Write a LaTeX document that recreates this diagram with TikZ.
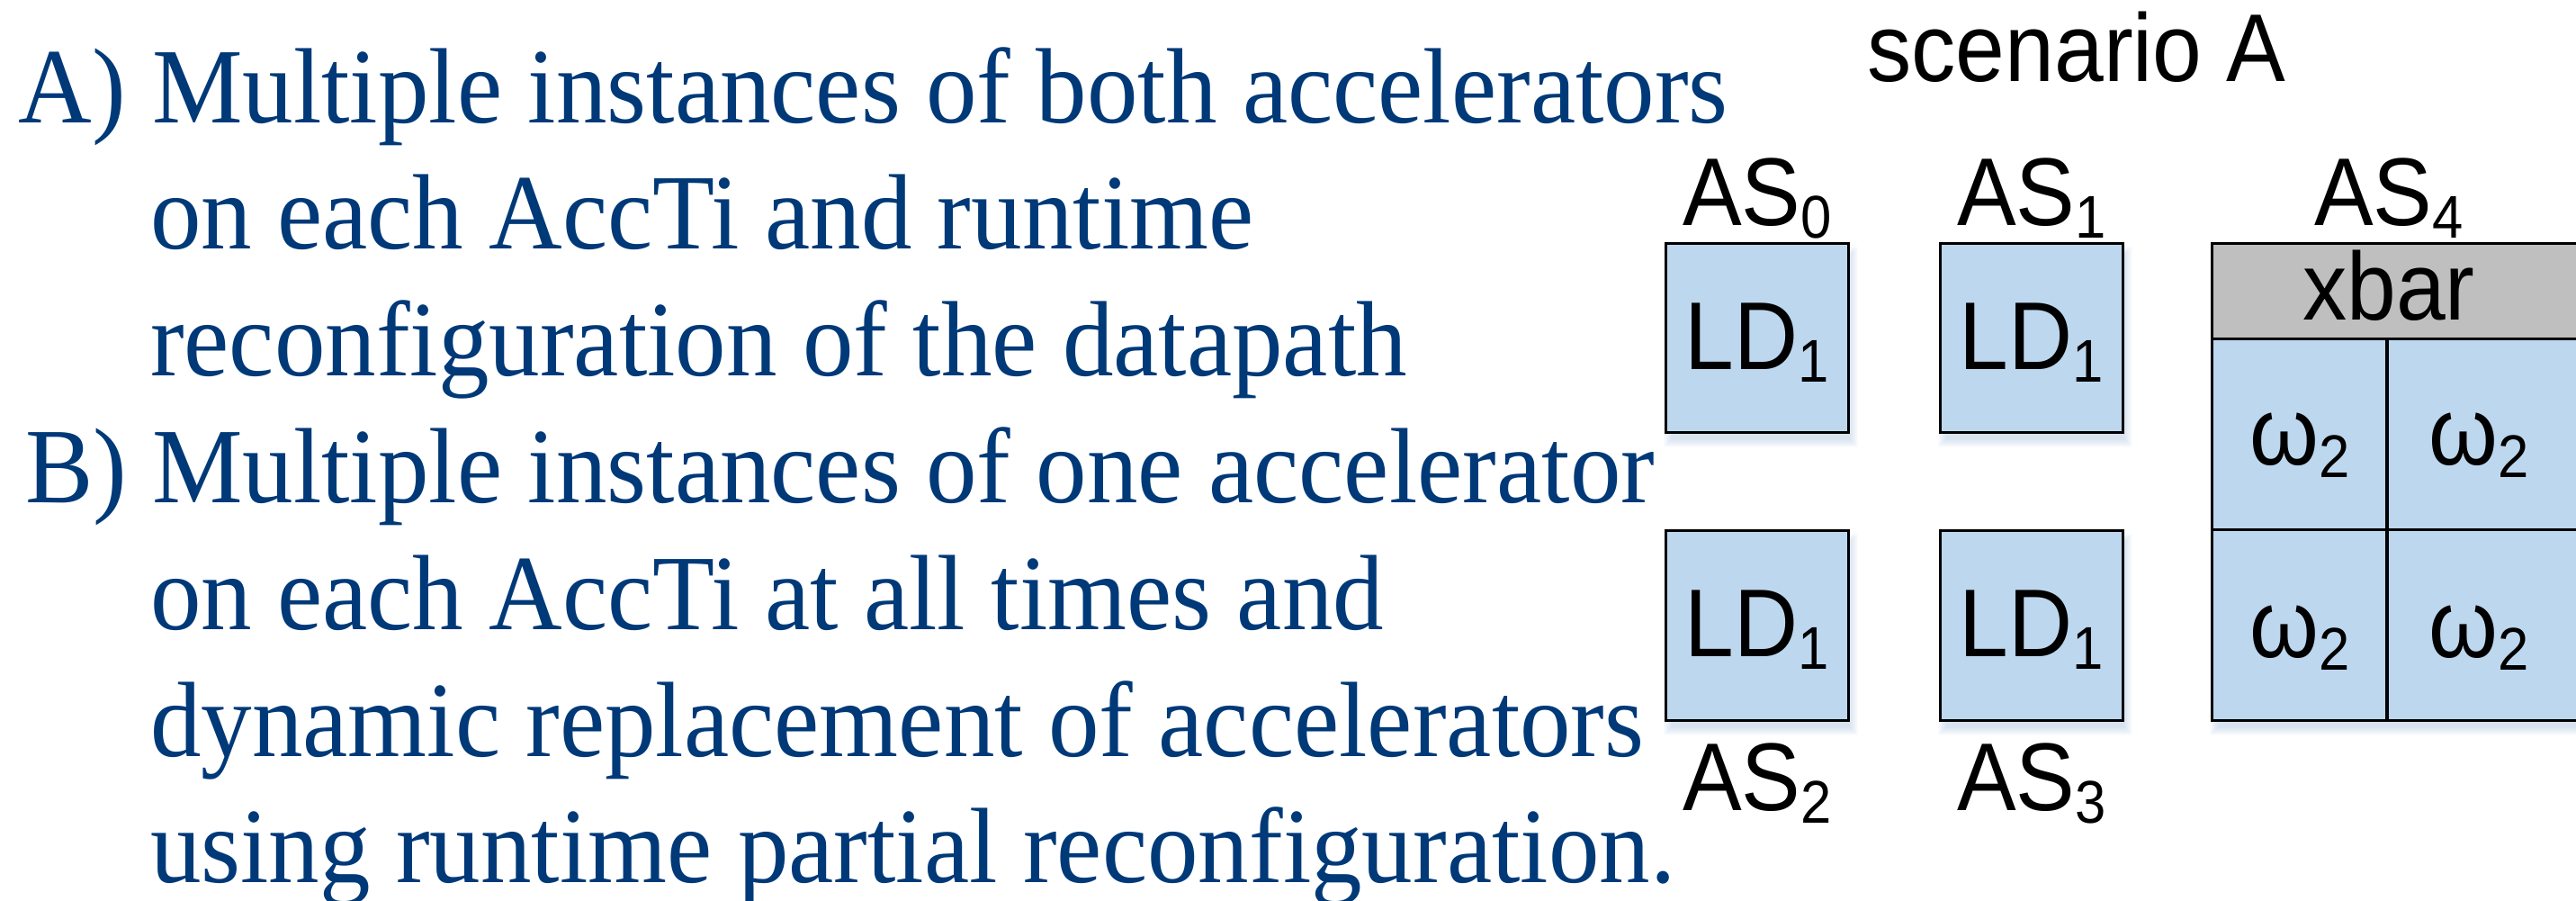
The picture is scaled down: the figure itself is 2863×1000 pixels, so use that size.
\documentclass[tikz,border=0pt]{standalone}
\usepackage{fontspec}
\setmainfont{Liberation Serif}[FakeStretch=0.95]
\newfontfamily\arialf{Liberation Sans}[FakeStretch=0.92]
\usetikzlibrary{backgrounds}
\definecolor{txtblue}{RGB}{0,57,120}
\definecolor{boxblue}{RGB}{189,215,238}
\definecolor{bargrey}{RGB}{191,191,191}
\definecolor{shadowc}{RGB}{110,150,200}
\newcommand\subsc[1]{\raisebox{-3.5pt}{\fontsize{16.75pt}{16.75pt}\selectfont #1}}
\begin{document}
\begin{tikzpicture}[x=0.25pt,y=-0.25pt,
  bodytext/.style={anchor=base west,inner sep=0pt,outer sep=0pt,text=txtblue,
    font=\fontsize{29.75pt}{35pt}\selectfont},
  sanslabel/.style={anchor=base,inner sep=0pt,outer sep=0pt,
    font=\arialf\fontsize{26.75pt}{30pt}\selectfont},
  ldbox/.style={draw=black,line width=0.75pt,fill=boxblue,inner sep=0pt,
    minimum width=50.75pt,minimum height=52.6pt},
  gridcell/.style={draw=black,line width=0.75pt,fill=boxblue,inner sep=0pt},
  barbox/.style={draw=black,line width=0.75pt,fill=bargrey,inner sep=0pt},
]
\useasboundingbox (0,0) rectangle (2863,1000);

% left text
\node[bodytext] (la) at (21,136) {A)};
\node[bodytext] (l1) at (169,136) {Multiple instances of both accelerators};
\node[bodytext] (l2) at (167,276) {on each AccTi and runtime};
\node[bodytext] (l3) at (167,417) {reconfiguration of the datapath};
\node[bodytext] (lb) at (28,558) {B)};
\node[bodytext] (l4) at (169,558) {Multiple instances of one accelerator};
\node[bodytext] (l5) at (167,699) {on each AccTi at all times and};
\node[bodytext] (l6) at (167,840) {dynamic replacement of accelerators};
\node[bodytext] (l7) at (167,980) {using runtime partial reconfiguration.};

% scenario title
\node[sanslabel] (title) at (2308,90) {scenario A};

% LD boxes
\node[ldbox] (b0) at (1953,375.5) {};
\node[ldbox] (b1) at (2258,375.5) {};
\node[ldbox] (b2) at (1953,695) {};
\node[ldbox] (b3) at (2258,695) {};
\node[sanslabel] (t0) at (1953,410) {LD\subsc{1}};
\node[sanslabel] (t1) at (2258,410) {LD\subsc{1}};
\node[sanslabel] (t2) at (1953,729) {LD\subsc{1}};
\node[sanslabel] (t3) at (2258,729) {LD\subsc{1}};

% AS labels
\node[sanslabel] (as0) at (1953,250) {AS\subsc{0}};
\node[sanslabel] (as1) at (2258,250) {AS\subsc{1}};
\node[sanslabel] (as2) at (1953,900) {AS\subsc{2}};
\node[sanslabel] (as3) at (2258,900) {AS\subsc{3}};
\node[sanslabel] (as4) at (2655,250) {AS\subsc{4}};

% AS4 grid
\node[barbox,minimum width=101.9pt,minimum height=26.4pt] (bar) at (2662.25,323.25) {};
\node[gridcell,minimum width=48.6pt,minimum height=53pt] (c11) at (2555.75,482) {};
\node[gridcell,minimum width=53.25pt,minimum height=53pt] (c12) at (2759.5,482) {};
\node[gridcell,minimum width=48.6pt,minimum height=53.1pt] (c21) at (2555.75,694.25) {};
\node[gridcell,minimum width=53.25pt,minimum height=53.1pt] (c22) at (2759.5,694.25) {};
\node[sanslabel] (xbar) at (2655,355) {xbar};
\node[sanslabel] (w11) at (2556,516) {ω\subsc{2}};
\node[sanslabel] (w12) at (2755,516) {ω\subsc{2}};
\node[sanslabel] (w21) at (2556,730) {ω\subsc{2}};
\node[sanslabel] (w22) at (2755,730) {ω\subsc{2}};

% soft shadows
\begin{pgfonlayer}{background}
\foreach \n/\m in {b0/b0,b1/b1,b2/b2,b3/b3,bar/c22}{
  \foreach \k in {0,...,9}{
    \fill[shadowc,opacity=0.03]
      ([shift={(\k-1,\k+5)}]\n.north west) rectangle ([shift={(9-\k,15-\k)}]\m.south east);
  }
}
\end{pgfonlayer}
\end{tikzpicture}
\end{document}
